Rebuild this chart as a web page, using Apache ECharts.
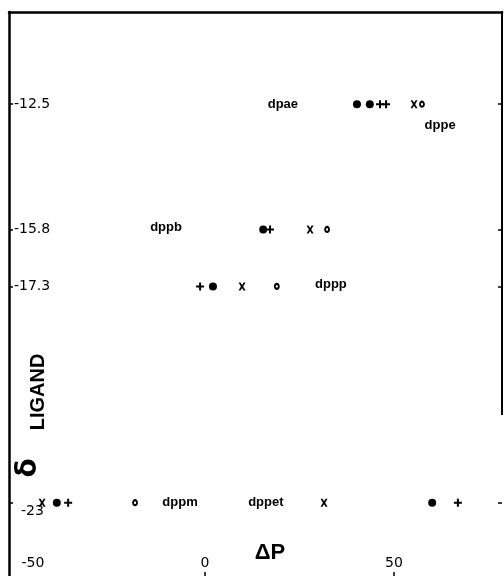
<!DOCTYPE html>
<html>
<head>
<meta charset="utf-8">
<script src="https://cdn.jsdelivr.net/npm/echarts@6/dist/echarts.min.js"></script>
<style>html,body{margin:0;padding:0;background:#fff}#c{width:504px;height:576px}</style>
</head>
<body>
<div id="c"></div>
<script>
// ---- data ----
const xTickValues = [-50, 0, 50];
const xTickLabels = ['-50', '0', '50'];
const xTickMarks = [0, 50];
const yTickValues = [-12.5, -15.8, -17.3, -23];
const yTickLabels = ['-12.5', '-15.8', '-17.3', '-23'];

// marker groups: [ΔP, δ ligand]
const filledCircles = [[40.2, -12.5], [43.6, -12.5], [15.4, -15.8], [2.1, -17.3], [-39.2, -23], [60.1, -23]];
const plusMarks = [[46.3, -12.5], [47.9, -12.5], [17.2, -15.8], [-1.3, -17.3], [-36.2, -23], [66.9, -23]];
const crossMarks = [[55.3, -12.5], [27.8, -15.8], [9.8, -17.3], [-43.1, -23], [31.5, -23]];
const openCircles = [[57.4, -12.5], [32.3, -15.8], [19.0, -17.3], [-18.5, -23]];

// ligand name annotations
const ligandNames = ['dpae', 'dppe', 'dppb', 'dppp', 'dppm', 'dppet'];
const ligandX = [20.6, 62.2, -10.3, 33.3, -6.6, 16.1];
const ligandY = [-12.5, -13.05, -15.75, -17.24, -23, -23];

const xMin = -51.85, xMax = 78.57;
const yMin = -25.01, yMax = -10.07;

const chart = echarts.init(document.getElementById('c'), null, {renderer: 'canvas'});

function nearestIdx(arr, v) {
  let b = 0;
  for (let i = 1; i < arr.length; i++) if (Math.abs(arr[i] - v) < Math.abs(arr[b] - v)) b = i;
  return b;
}

const FONT = 'Liberation Sans';
const TICKFONT = 'DejaVu Sans';

chart.setOption({
  animation: false,
  backgroundColor: '#fff',
  grid: {left: 9, right: 2, top: 12, bottom: -3, outerBoundsMode: 'none', containLabel: false},
  xAxis: [{
    type: 'value', min: xMin, max: xMax, position: 'bottom',
    splitLine: {show: false},
    axisLine: {show: true, onZero: false, lineStyle: {color: '#000', width: 2}},
    axisTick: {show: true, inside: true, length: 7, customValues: xTickMarks, lineStyle: {color: '#000', width: 1.5}},
    axisLabel: {
      show: true, inside: true, margin: 9, customValues: xTickValues,
      color: '#000', fontFamily: TICKFONT, fontSize: 14,
      formatter: function (v) {
        const i = nearestIdx(xTickValues, v);
        if (i === 0) return '{l|' + xTickLabels[i] + '}';
        return xTickLabels[i];
      },
      rich: {l: {padding: [0, 0, 0, 34], fontFamily: TICKFONT, fontSize: 14, color: '#000'}}
    }
  }, {
    type: 'value', min: xMin, max: xMax, position: 'top',
    splitLine: {show: false},
    axisLine: {show: true, onZero: false, lineStyle: {color: '#000', width: 2.5}},
    axisTick: {show: false}, axisLabel: {show: false}
  }],
  yAxis: [{
    type: 'value', min: yMin, max: yMax, position: 'left',
    splitLine: {show: false},
    axisLine: {show: true, onZero: false, lineStyle: {color: '#000', width: 2.5}},
    axisTick: {show: true, inside: true, length: 4, customValues: yTickValues, lineStyle: {color: '#000', width: 1.5}},
    axisLabel: {
      show: true, inside: true, margin: 5, customValues: yTickValues,
      color: '#000', fontFamily: TICKFONT, fontSize: 14,
      formatter: function (v) {
        const i = nearestIdx(yTickValues, v);
        if (i === 3) return '{s|' + yTickLabels[i] + '}';
        return yTickLabels[i];
      },
      rich: {s: {padding: [18, 0, 0, 7], fontFamily: TICKFONT, fontSize: 14, color: '#000'}}
    }
  }, {
    type: 'value', min: yMin, max: yMax, position: 'right',
    splitLine: {show: false},
    axisLine: {show: false, onZero: false},
    axisTick: {show: true, inside: true, length: 4, customValues: yTickValues, lineStyle: {color: '#000', width: 1.5}},
    axisLabel: {show: false}
  }],
  graphic: [
    {type: 'line', shape: {x1: 502, y1: 11, x2: 502, y2: 415}, style: {stroke: '#000', lineWidth: 2}, z: 10},
    {type: 'text', x: 270, y: 553, style: {text: 'ΔP', font: 'bold 22px "Liberation Sans"', fill: '#000', align: 'center', verticalAlign: 'middle'}},
    {type: 'text', x: 29, y: 468, rotation: Math.PI / 2, style: {text: 'δ', font: 'bold 28px "DejaVu Sans"', fill: '#000', align: 'center', verticalAlign: 'middle'}},
    {type: 'text', x: 38, y: 392, rotation: Math.PI / 2, style: {text: 'LIGAND', font: 'bold 20px "Liberation Sans"', fill: '#000', align: 'center', verticalAlign: 'middle'}}
  ],
  series: [{
    name: 'filled', type: 'scatter', data: filledCircles,
    symbol: 'circle', symbolSize: 8, itemStyle: {color: '#000', opacity: 1}
  }, {
    name: 'plus', type: 'scatter', data: plusMarks,
    symbol: 'path://M-1,-4H1V-1H4V1H1V4H-1V1H-4V-1H-1Z', symbolSize: 8, itemStyle: {color: '#000', opacity: 1}
  }, {
    name: 'cross', type: 'scatter', data: crossMarks,
    symbol: 'path://M0,0L2.2,0L4,2.5L5.8,0L8,0L5.3,4L8,8L5.8,8L4,5.5L2.2,8L0,8L2.7,4Z', symbolSize: [7, 8], itemStyle: {color: '#000', opacity: 1}
  }, {
    name: 'open', type: 'scatter', data: openCircles,
    symbol: 'emptyCircle', symbolSize: [4, 5], itemStyle: {color: '#000', borderColor: '#000', borderWidth: 1.5, opacity: 1}
  }, {
    name: 'ligands', type: 'scatter',
    data: ligandNames.map((n, i) => ({name: n, value: [ligandX[i], ligandY[i]]})),
    symbolSize: 1, itemStyle: {color: 'rgba(0,0,0,0)', opacity: 1},
    label: {show: true, position: 'inside', formatter: '{b}', color: '#000', opacity: 1, fontFamily: FONT, fontWeight: 'bold', fontSize: 13}
  }]
});
</script>
</body>
</html>
